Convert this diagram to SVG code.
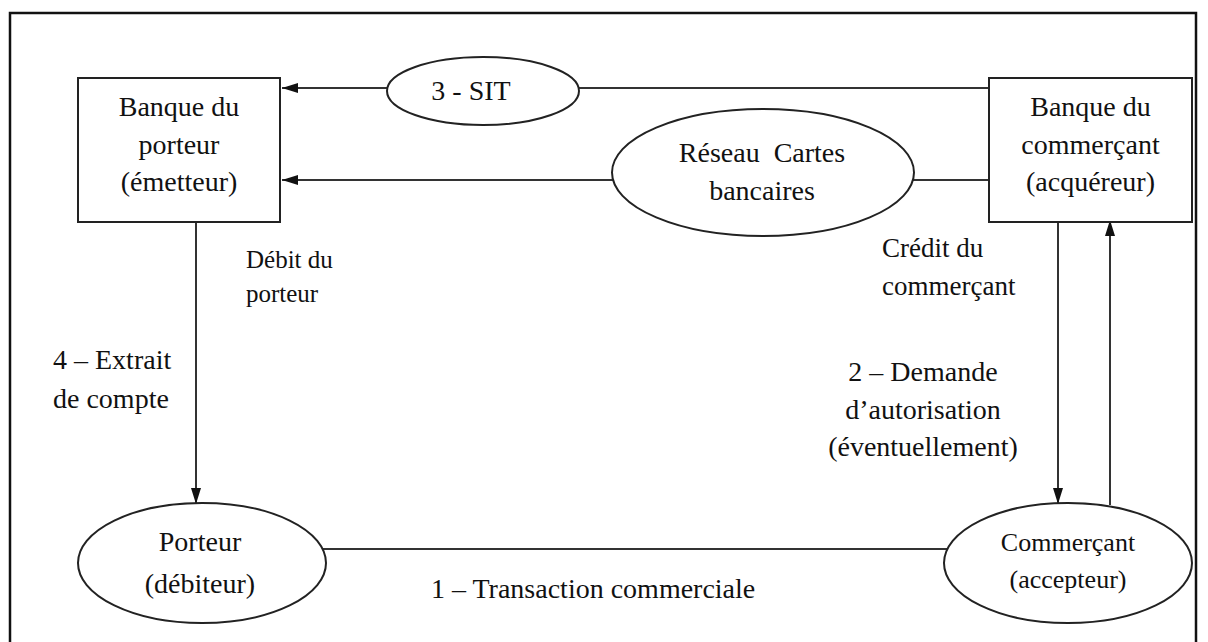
<svg xmlns="http://www.w3.org/2000/svg" width="1208" height="642" viewBox="0 0 1208 642">
<style>
.shape{fill:#fff;stroke:#222;stroke-width:2}
.edge{fill:none;stroke:#333;stroke-width:2}
.t{font-family:"Liberation Serif","Times New Roman",serif;font-size:28px;fill:#111;text-anchor:middle}
.l{font-family:"Liberation Serif","Times New Roman",serif;font-size:28px;fill:#111}
</style>
<defs>
<marker id="arr" viewBox="0 0 16 10" refX="16" refY="5" markerWidth="16" markerHeight="10" markerUnits="userSpaceOnUse" orient="auto">
<path d="M0,0 L16,5 L0,10 Z" fill="#111"/>
</marker>
</defs>
<rect width="1208" height="642" fill="#fff"/>
<rect x="10" y="13" width="1186" height="700" fill="none" stroke="#111" stroke-width="2.5"/>
<g id="connectors">
<line class="edge" x1="387" y1="88" x2="282" y2="88" marker-end="url(#arr)"/>
<line class="edge" x1="579" y1="88" x2="989" y2="88"/>
<line class="edge" x1="613" y1="180" x2="282" y2="180" marker-end="url(#arr)"/>
<line class="edge" x1="913" y1="180" x2="989" y2="180"/>
<line class="edge" x1="196" y1="222" x2="196" y2="504" marker-end="url(#arr)"/>
<line class="edge" x1="1058" y1="222" x2="1058" y2="504" marker-end="url(#arr)"/>
<line class="edge" x1="1110" y1="505" x2="1110" y2="220" marker-end="url(#arr)"/>
<line class="edge" x1="323" y1="549" x2="947" y2="549"/>
</g>
<g id="banque-porteur">
<rect class="shape" x="78" y="78" width="202" height="144"/>
<text class="t" x="179" y="116">Banque du</text>
<text class="t" x="179" y="154">porteur</text>
<text class="t" x="179" y="191">(émetteur)</text>
</g>
<g id="sit">
<ellipse class="shape" cx="483" cy="91" rx="96" ry="34"/>
<text class="t" x="471" y="100">3 - SIT</text>
</g>
<g id="reseau">
<ellipse class="shape" cx="763" cy="172.5" rx="151" ry="63.5"/>
<text class="t" x="762" y="162" xml:space="preserve">Réseau  Cartes</text>
<text class="t" x="762" y="200">bancaires</text>
</g>
<g id="banque-commercant">
<rect class="shape" x="989" y="78" width="203" height="144"/>
<text class="t" x="1090.5" y="116">Banque du</text>
<text class="t" x="1090.5" y="154">commerçant</text>
<text class="t" x="1090.5" y="191">(acquéreur)</text>
</g>
<g id="porteur">
<ellipse class="shape" cx="202" cy="563" rx="124" ry="60"/>
<text class="t" x="200" y="551">Porteur</text>
<text class="t" x="200" y="593">(débiteur)</text>
</g>
<g id="commercant">
<ellipse class="shape" cx="1068" cy="563" rx="124" ry="60"/>
<text class="t" x="1068" y="551" style="font-size:26px">Commerçant</text>
<text class="t" x="1068" y="588" style="font-size:26px">(accepteur)</text>
</g>
<g id="labels">
<text class="l" x="246" y="268" style="font-size:25px">Débit du</text>
<text class="l" x="246" y="302" style="font-size:25px">porteur</text>
<text class="l" x="882" y="257" style="font-size:27px">Crédit du</text>
<text class="l" x="882" y="295" style="font-size:27px">commerçant</text>
<text class="l" x="53" y="369">4 – Extrait</text>
<text class="l" x="53" y="408">de compte</text>
<text class="t" x="923" y="381">2 – Demande</text>
<text class="t" x="923" y="419">d’autorisation</text>
<text class="t" x="923" y="456">(éventuellement)</text>
<text class="l" x="431" y="598">1 – Transaction commerciale</text>
</g>
</svg>
